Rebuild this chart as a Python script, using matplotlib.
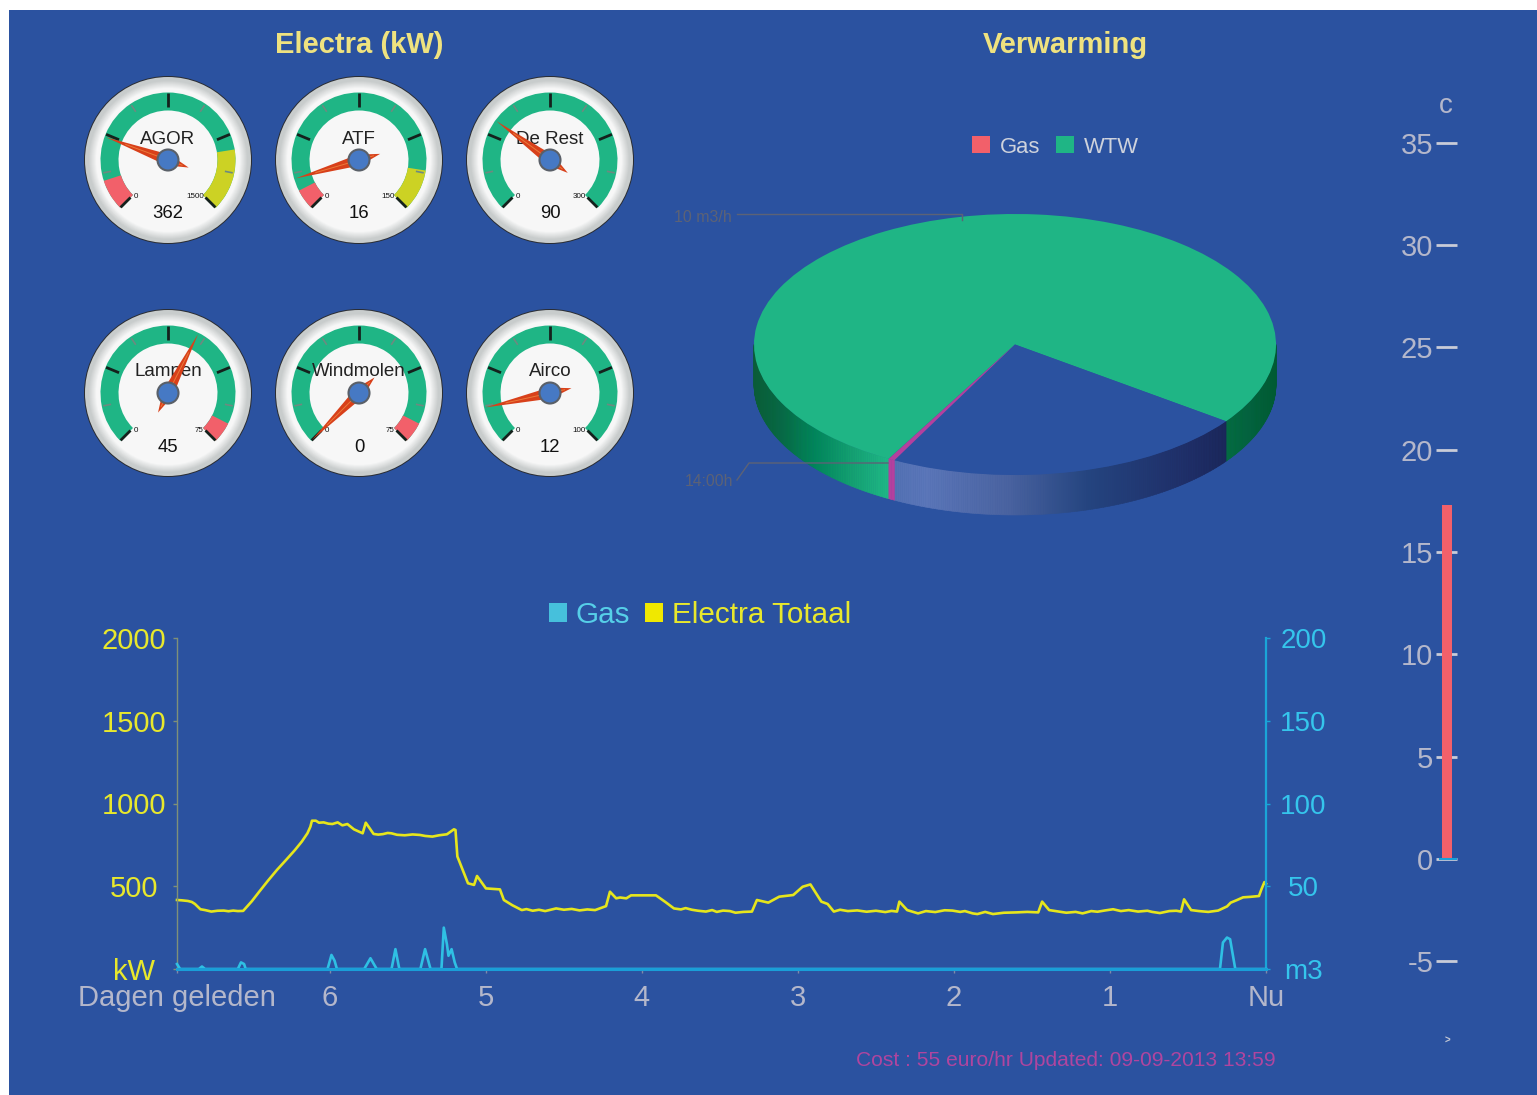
import numpy as np
import matplotlib
matplotlib.use("Agg")
import matplotlib.pyplot as plt
from matplotlib.patches import Wedge, Circle, Polygon, Patch, Rectangle
from matplotlib.collections import PolyCollection
from matplotlib.transforms import Affine2D
from matplotlib.colors import to_rgb

plt.rcParams['font.family'] = ['Liberation Sans', 'DejaVu Sans']

# ---------- data ----------
gauge_names = ["AGOR", "ATF", "De Rest", "Lampen", "Windmolen", "Airco"]
gauge_values = [362, 16, 90, 45, 0, 12]
gauge_max = [1500, 150, 300, 75, 75, 100]
gauge_red = [(0, 150), (0, 10), None, (70, 75), (70, 75), None]
gauge_yellow = [(1200, 1500), (130, 150), None, None, None, None]

pie_labels = ["WTW", "Gas", "rest"]
pie_values = [10.0, 0.05, 2.94]

temp_value = 17.3
temp_ticks = [-5, 0, 5, 10, 15, 20, 25, 30, 35]

electra_days = [6.98, 6.95, 6.91, 6.885, 6.865, 6.83, 6.80, 6.76, 6.72, 6.68, 6.65, 6.62, 6.59, 6.556,
                6.50, 6.453, 6.40, 6.34, 6.28, 6.224, 6.18, 6.144, 6.125, 6.115,
                6.09, 6.07, 6.04, 6.01, 5.984, 5.95, 5.92, 5.888, 5.846, 5.79, 5.77, 5.72, 5.69,
                5.66, 5.63, 5.606, 5.57, 5.52, 5.47, 5.423, 5.39, 5.343, 5.30, 5.25, 5.205, 5.195,
                5.183, 5.115, 5.076, 5.057, 5.0, 4.91, 4.885, 4.83, 4.77,
                4.74, 4.70, 4.66, 4.62, 4.55, 4.50, 4.45, 4.40, 4.35, 4.30, 4.23, 4.205, 4.165, 4.14, 4.10, 4.07,
                3.91, 3.85, 3.795, 3.75, 3.72, 3.68, 3.64, 3.59, 3.55, 3.52, 3.48, 3.436, 3.40, 3.35, 3.295,
                3.263, 3.19, 3.12, 3.03, 2.97, 2.92, 2.85, 2.81, 2.77, 2.73, 2.68, 2.62, 2.56, 2.50, 2.44, 2.40, 2.365,
                2.35, 2.30, 2.23, 2.18, 2.12, 2.06, 2.01, 1.96, 1.93, 1.88, 1.85, 1.80, 1.75, 1.68, 1.60, 1.53, 1.46,
                1.435, 1.39, 1.34, 1.28, 1.22, 1.176, 1.12, 1.08, 1.03, 0.98, 0.93, 0.88, 0.82, 0.76, 0.73, 0.68,
                0.62, 0.575, 0.545,
                0.525, 0.48, 0.43, 0.37, 0.307, 0.25, 0.226, 0.19, 0.147, 0.10, 0.045, 0.03, 0.01, 0.0]
electra_kw = [417, 415, 411, 405, 393, 361, 356, 347, 352, 353, 349, 353, 350, 351,
              410, 467, 530, 598, 660, 719, 770, 820, 860, 896,
              896, 884, 886, 878, 876, 886, 868, 876, 844, 820, 884, 816, 812,
              815, 822, 820, 811, 808, 813, 810, 804, 800, 808, 814, 844, 840,
              680, 518, 508, 562, 487, 481, 417, 385, 356,
              362, 352, 358, 350, 366, 358, 363, 354, 360, 356, 380, 467, 427, 432, 427, 445,
              445, 405, 366, 360, 368, 358, 352, 347, 356, 345, 353, 350, 340, 345, 347,
              417, 401, 437, 447, 497, 511, 407, 393, 347, 358, 350, 354, 346, 352, 344, 351, 347,
              407, 356, 336, 350, 344, 355, 353, 345, 350, 336, 332, 345, 332, 340, 342, 345, 342,
              407, 356, 349, 340, 345, 336, 350, 346, 354, 361, 350, 356, 347, 352, 345, 338,
              350, 352, 347,
              421, 356, 350, 345, 353, 378, 401, 415, 433, 436, 441, 480, 525, 515]

gas_days = [6.98, 6.96, 6.84, 6.82, 6.80, 6.59, 6.57, 6.55, 6.54, 6.015, 5.99, 5.97, 5.955, 5.78, 5.74, 5.70,
            5.605, 5.58, 5.555, 5.42, 5.39, 5.355, 5.285, 5.27, 5.25, 5.24, 5.22, 5.20, 5.185, 0.295, 0.276,
            0.25, 0.23, 0.197, 0.0]
gas_m3 = [3, 0, 0, 1.5, 0, 0, 4, 3, 0, 0, 8.5, 5, 0, 0, 6.5, 0,
          0, 12, 0, 0, 12, 0, 0, 25, 15, 8, 12, 4, 0, 0, 16,
          19, 18, 0, 0]

day_ticks = [6.98, 6, 5, 4, 3, 2, 1, 0]
day_labels = ["Dagen geleden", "6", "5", "4", "3", "2", "1", "Nu"]
kw_ticks = [0, 500, 1000, 1500, 2000]
kw_labels = ["kW", "500", "1000", "1500", "2000"]
m3_ticks = [0, 50, 100, 150, 200]
m3_labels = ["m3", "50", "100", "150", "200"]

# ---------- colours ----------
BG = "#2b52a0"
GREEN = "#1fb585"
RED = "#f2606a"
YELLOW = "#ccd224"
GREY = "#b4b7cb"
TITLE = "#efe27f"

W, H = 1537, 1095
fig = plt.figure(figsize=(W / 100, H / 100), dpi=100, facecolor="white")


def axes_px(x0, y0, x1, y1, **kw):
    return fig.add_axes([x0 / W, 1 - y1 / H, (x1 - x0) / W, (y1 - y0) / H], **kw)


ov = axes_px(0, 0, W, H)
ov.set_xlim(0, W)
ov.set_ylim(H, 0)
ov.axis("off")
ov.add_patch(Rectangle((9, 10), W - 9, H - 10, fc=BG, ec="none", zorder=0))

ov.text(359, 45, "Electra (kW)", color=TITLE, fontsize=21, fontweight="bold", ha="center", va="center")
ov.text(1065, 45, "Verwarming", color=TITLE, fontsize=21, fontweight="bold", ha="center", va="center")


# ---------- gauges ----------
def val_angle(v, vmax):
    return -135 + 270 * v / vmax


centers = [(168, 160), (359, 160), (550, 160), (168, 393), (359, 393), (550, 393)]
for i, (cx, cy) in enumerate(centers):
    ov.add_patch(Circle((cx, cy), 84, fc="#2a2d33", ec="none", zorder=2))
    c0, c1 = np.array(to_rgb("#c8cccc")), np.array(to_rgb("#f7f7f7"))
    for r in np.arange(83, 71, -1.0):
        t = np.clip((80 - r) / 8, 0, 1)
        ov.add_patch(Circle((cx, cy), r, fc=c0 + (c1 - c0) * t, ec="none", zorder=2.1))
    ov.add_patch(Circle((cx, cy), 71, fc="#f7f7f7", ec="none", zorder=2.2))

    vmax = gauge_max[i]
    ov.add_patch(Wedge((cx, cy), 67.5, -135 - 90, 135 - 90, width=18, fc=GREEN, ec="none", zorder=3))
    for zone, col in ((gauge_red[i], RED), (gauge_yellow[i], YELLOW)):
        if zone:
            a0, a1 = val_angle(zone[0], vmax), val_angle(zone[1], vmax)
            ov.add_patch(Wedge((cx, cy), 67.5, a0 - 90, a1 - 90, width=18, fc=col, ec="none", zorder=3.1))
    for k in range(9):
        a = np.radians(-135 + 33.75 * k)
        major = k % 2 == 0
        r0, r1 = (53, 67) if major else (58, 66)
        ov.plot([cx + r0 * np.sin(a), cx + r1 * np.sin(a)], [cy - r0 * np.cos(a), cy - r1 * np.cos(a)],
                color="#14211c" if major else "#6d8a80", lw=2.0 if major else 1.2, zorder=3.5,
                solid_capstyle="butt")

    ov.text(cx, cy - 21, gauge_names[i], color="#222222", fontsize=13.5, ha="center", va="center", zorder=4)
    ov.text(cx, cy + 54, str(gauge_values[i]), color="#111111", fontsize=13.3, fontweight="normal",
            ha="center", va="center", zorder=4)
    ov.text(cx - 32, cy + 37, "0", color="#111111", fontsize=5.8, ha="center", va="center", zorder=4)
    ov.text(cx + 36, cy + 37, str(vmax), color="#111111", fontsize=5.8, ha="right", va="center", zorder=4)

    a = np.radians(val_angle(gauge_values[i], vmax))
    ux, uy = np.sin(a), -np.cos(a)
    nx, ny = -uy, ux
    ov.add_patch(Polygon([(cx + 66 * ux, cy + 66 * uy), (cx + 5.6 * nx, cy + 5.6 * ny),
                          (cx - 22 * ux, cy - 22 * uy), (cx - 5.6 * nx, cy - 5.6 * ny)],
                         fc="#d8401a", ec="none", zorder=5))
    ov.plot([cx + 45 * ux, cx - 15 * ux], [cy + 45 * uy, cy - 15 * uy], color="#ea7a3a", lw=0.7, zorder=5.1)
    ov.add_patch(Circle((cx, cy), 10.5, fc="#4679c4", ec="#5a6068", lw=1.5, zorder=6))

# ---------- pie ----------
PX, PY, RX, RY, DEPTH = 1015, 344.5, 261, 130.5, 40
start = 118.9
fracs = np.array(pie_values) / sum(pie_values) * 360
wtw0, wtw1 = start, start + fracs[0]
gas0, gas1 = start - fracs[1], start
rest0, rest1 = start - fracs[1] - fracs[2], start - fracs[1]


def grad(x, stops):
    xs = [s[0] for s in stops]
    cs = np.array([to_rgb(s[1]) for s in stops])
    return [np.interp(x, xs, cs[:, j]) for j in range(3)]


left_stops = [(754, "#0a5c38"), (782, "#066b42"), (815, "#00875a"), (850, "#13a070"), (888, "#1fb886")]
right_stops = [(1226, "#036c40"), (1276, "#005a33")]
blue_stops = [(888, "#5270b2"), (925, "#5b76b9"), (1007, "#4a63a0"), (1088, "#24447f"),
              (1190, "#1e2d66"), (1226, "#1a2658")]
magenta_stops = [(880, "#b4409e"), (895, "#b4409e")]


def side(th0, th1, stops):
    ths = np.linspace(th0, th1, max(2, int(abs(th1 - th0) * 2) + 1))
    quads, cols = [], []
    for a, b in zip(ths[:-1], ths[1:]):
        xa, xb = PX + RX * np.cos(np.radians(a)), PX + RX * np.cos(np.radians(b))
        ya, yb = PY + RY * np.sin(np.radians(a)), PY + RY * np.sin(np.radians(b))
        quads.append([(xa, ya), (xb, yb), (xb, yb + DEPTH), (xa, ya + DEPTH)])
        cols.append(grad((xa + xb) / 2, stops))
    ov.add_collection(PolyCollection(quads, facecolors=cols, edgecolors=cols, linewidths=0.4, zorder=2))


side(start, 180, left_stops)
side(0, wtw1 - 360, right_stops)
side(rest0, rest1, blue_stops)
side(gas0, gas1, magenta_stops)

pie_tf = Affine2D().scale(RX, RY).translate(PX, PY) + ov.transData
ov.add_patch(Wedge((0, 0), 1, wtw0, wtw1, fc=GREEN, ec="none", transform=pie_tf, zorder=3))
ov.add_patch(Wedge((0, 0), 1, rest0, rest1, fc=BG, ec="none", transform=pie_tf, zorder=3))
ov.add_patch(Wedge((0, 0), 1, gas0, gas1, fc="#b4409e", ec="none", transform=pie_tf, zorder=3.1))

LEAD = "#5c6276"
ov.plot([737, 962, 962], [214, 214, 220], color=LEAD, lw=1, zorder=3.5)
ov.plot([737, 749, 888], [480, 463, 463], color=LEAD, lw=1, zorder=3.5)
ov.text(732, 217, "10 m3/h", color=LEAD, fontsize=11.5, ha="right", va="center")
ov.text(733, 482, "14:00h", color=LEAD, fontsize=11.3, ha="right", va="center")

leg = ov.legend(handles=[Patch(fc=RED, label="Gas"), Patch(fc=GREEN, label="WTW")], ncol=2, frameon=False,
                loc="center", bbox_to_anchor=(1055.5, 147), bbox_transform=ov.transData, fontsize=15.8,
                handlelength=0.8, handleheight=0.8, handletextpad=0.45, columnspacing=0.75)
for t in leg.get_texts():
    t.set_color("#ced2dc")

ov.text(1065.5, 1061, "Cost : 55 euro/hr Updated: 09-09-2013 13:59", color="#b0459f", fontsize=15.1,
        ha="center", va="center")
ov.text(1447, 1041, ">", color="#c4c8d4", fontsize=7, fontweight="bold", ha="center", va="center")
ov.text(1446, 106, "c", color=GREY, fontsize=20, ha="center", va="center")

# ---------- line chart ----------
ax = axes_px(177, 638, 1266, 969)
ax.patch.set_alpha(0)
ax.set_xlim(6.98, 0)
ax.set_ylim(0, 2000)
ax.plot(electra_days, electra_kw, color="#e6e61c", lw=1.9, solid_joinstyle="round", clip_on=False)
for s in ("top", "right", "bottom"):
    ax.spines[s].set_visible(False)
ax.spines["left"].set_color("#7f9078")
ax.spines["left"].set_linewidth(1)
ax.set_xticks(day_ticks, day_labels, color=GREY, fontsize=21)
ax.set_yticks(kw_ticks, kw_labels, color="#e8e82c", fontsize=21, ha="center", va="center_baseline")
ax.tick_params(axis="y", length=3, width=1, color="#7f9078", pad=28)
ax.tick_params(axis="x", length=3, width=1, color="#7f8aa8", pad=8)

ax2 = ax.twinx()
ax2.patch.set_alpha(0)
ax2.set_ylim(0, 200)
ax2.plot(gas_days, gas_m3, color="#2fc0e4", lw=1.9, clip_on=False, zorder=3)
ax2.plot([6.98, 0], [0, 0], color="#1a9fd8", lw=2.2, clip_on=False, zorder=4)
for s in ("top", "left", "bottom"):
    ax2.spines[s].set_visible(False)
ax2.spines["right"].set_color("#1aa5d8")
ax2.spines["right"].set_linewidth(1.6)
ax2.set_yticks(m3_ticks, m3_labels, color="#35c5ec", fontsize=20, ha="center", va="center_baseline")
ax2.tick_params(axis="y", length=3, width=1, color="#1aa5d8", pad=24)

leg2 = ov.legend(handles=[Patch(fc="#46c0dc", label="Gas"), Patch(fc="#f0e800", label="Electra Totaal")],
                 ncol=2, frameon=False, loc="center", bbox_to_anchor=(700, 615), bbox_transform=ov.transData,
                 fontsize=21.3, handlelength=0.6, handleheight=0.6, handletextpad=0.3, columnspacing=0.5)
leg2.get_texts()[0].set_color("#56cfe8")
leg2.get_texts()[1].set_color("#e8e82c")
ov.add_artist(leg)

# ---------- thermometer ----------
tax = axes_px(1436, 143, 1457, 961)
tax.patch.set_alpha(0)
tax.set_xlim(0, 21)
tax.set_ylim(-5, 35)
tax.bar([11], [temp_value], width=10, color=RED, zorder=3)
tax.plot([4, 21], [0, 0], color="#1a9fd8", lw=1.5, zorder=4)
for s in tax.spines.values():
    s.set_visible(False)
tax.set_xticks([])
tax.set_yticks(temp_ticks, [str(v) for v in temp_ticks], color=GREY, fontsize=21, va="center_baseline")
tax.tick_params(axis="y", left=True, direction="in", length=15.1, width=2, color="#c9ccd8", pad=2)

fig.savefig("out.png", dpi=100, facecolor="white")
